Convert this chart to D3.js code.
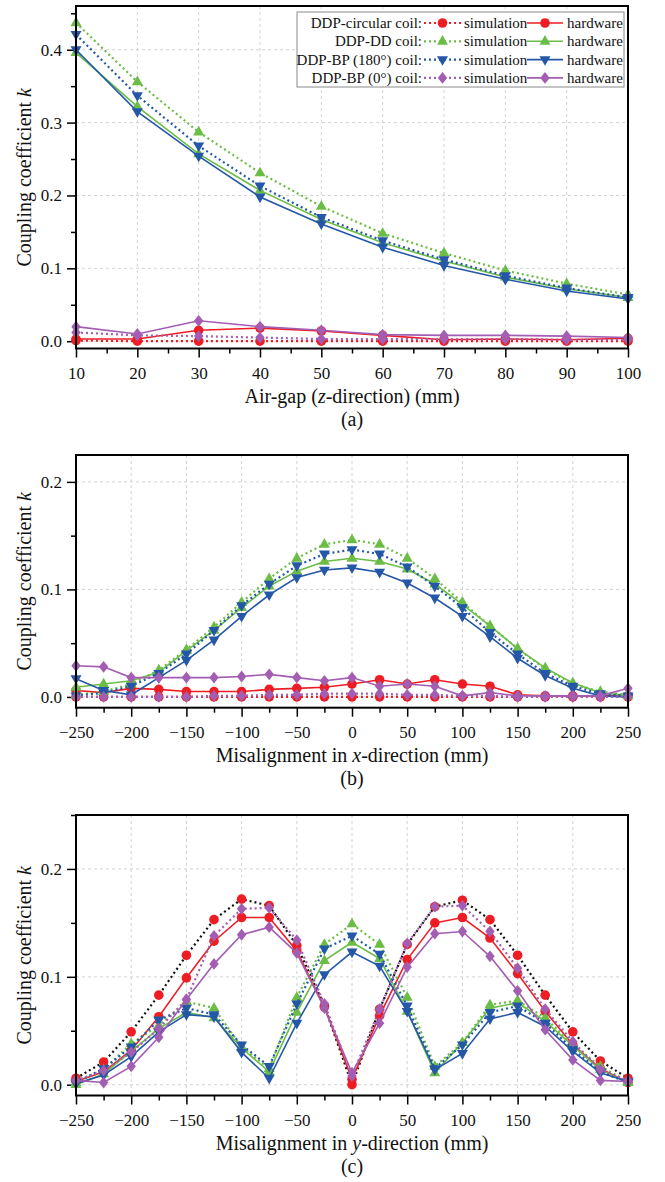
<!DOCTYPE html>
<html>
<head>
<meta charset="utf-8">
<script src="https://cdn.jsdelivr.net/npm/d3@7"></script>
<style>
  body { margin: 0; background: #fff; }
  svg { display: block; }
  svg text { font-family: "Liberation Serif", "Times New Roman", serif !important; }
</style>
</head>
<body>
<svg id="chart" width="665" height="1182"></svg>
<script>
"use strict";

// (a) air-gap sweep
const gapMm = [10, 20, 30, 40, 50, 60, 70, 80, 90, 100];
const gapCircularSim = [0.001, 0.000, 0.000, 0.000, 0.000, 0.000, 0.000, 0.000, 0.000, 0.000];
const gapCircularHw  = [0.003, 0.003, 0.015, 0.018, 0.014, 0.008, 0.002, 0.003, 0.002, 0.004];
const gapDDSim       = [0.437, 0.356, 0.287, 0.231, 0.185, 0.148, 0.121, 0.097, 0.079, 0.064];
const gapDDHw        = [0.396, 0.322, 0.257, 0.207, 0.167, 0.135, 0.110, 0.088, 0.072, 0.060];
const gapBP180Sim    = [0.421, 0.337, 0.268, 0.213, 0.170, 0.138, 0.112, 0.090, 0.073, 0.060];
const gapBP180Hw     = [0.400, 0.315, 0.254, 0.198, 0.161, 0.129, 0.104, 0.085, 0.069, 0.058];
const gapBP0Sim      = [0.012, 0.008, 0.007, 0.005, 0.003, 0.003, 0.003, 0.003, 0.002, 0.002];
const gapBP0Hw       = [0.020, 0.010, 0.028, 0.020, 0.015, 0.009, 0.008, 0.008, 0.007, 0.005];

// (b) misalignment in x
const misX = [-250, -225, -200, -175, -150, -125, -100, -75, -50, -25, 0, 25, 50, 75, 100, 125, 150, 175, 200, 225, 250];
const xCircularSim = [0, 0, 0, 0, 0, 0, 0, 0, 0, 0, 0, 0, 0, 0, 0, 0, 0, 0, 0, 0, 0];
const xCircularHw  = [0.006, 0.004, 0.008, 0.007, 0.005, 0.005, 0.005, 0.007, 0.008, 0.009, 0.012, 0.016, 0.012, 0.016, 0.012, 0.010, 0.002, 0.001, 0.001, 0.001, 0.001];
const xDDSim       = [0.002, 0.005, 0.012, 0.025, 0.044, 0.065, 0.088, 0.110, 0.129, 0.142, 0.146, 0.142, 0.129, 0.110, 0.088, 0.066, 0.045, 0.026, 0.012, 0.005, 0.002];
const xDDHw        = [0.009, 0.012, 0.015, 0.023, 0.043, 0.062, 0.083, 0.103, 0.117, 0.126, 0.129, 0.126, 0.119, 0.105, 0.086, 0.066, 0.045, 0.027, 0.013, 0.004, 0.001];
const xBP180Sim    = [0.001, 0.004, 0.010, 0.022, 0.040, 0.062, 0.085, 0.105, 0.122, 0.133, 0.137, 0.133, 0.121, 0.103, 0.083, 0.060, 0.040, 0.022, 0.010, 0.003, 0.001];
const xBP180Hw     = [0.017, 0.006, 0.002, 0.018, 0.034, 0.053, 0.075, 0.095, 0.111, 0.118, 0.120, 0.116, 0.106, 0.092, 0.075, 0.056, 0.036, 0.020, 0.008, 0.001, 0.000];
const xBP0Sim      = [0, 0, 0, 0, 0, 0.001, 0.001, 0.002, 0.002, 0.003, 0.003, 0.003, 0.002, 0.002, 0.001, 0.001, 0, 0, 0, 0, 0];
const xBP0Hw       = [0.029, 0.028, 0.018, 0.018, 0.018, 0.018, 0.019, 0.021, 0.018, 0.015, 0.018, 0.010, 0.012, 0.010, 0.001, 0.004, 0.001, 0.001, 0.001, 0.001, 0.008];

// (c) misalignment in y
const misY = [-250, -225, -200, -175, -150, -125, -100, -75, -50, -25, 0, 25, 50, 75, 100, 125, 150, 175, 200, 225, 250];
const yCircularSim = [0.006, 0.021, 0.049, 0.083, 0.120, 0.153, 0.172, 0.166, 0.129, 0.073, 0.000, 0.070, 0.130, 0.165, 0.171, 0.153, 0.120, 0.083, 0.049, 0.022, 0.006];
const yCircularHw  = [0.003, 0.012, 0.032, 0.063, 0.099, 0.133, 0.155, 0.155, 0.124, 0.072, 0.005, 0.064, 0.116, 0.150, 0.155, 0.136, 0.103, 0.068, 0.037, 0.015, 0.002];
const yDDSim       = [0.002, 0.014, 0.038, 0.055, 0.077, 0.071, 0.035, 0.015, 0.081, 0.130, 0.149, 0.130, 0.081, 0.017, 0.039, 0.074, 0.078, 0.062, 0.037, 0.017, 0.003];
const yDDHw        = [0.000, 0.010, 0.031, 0.052, 0.067, 0.062, 0.034, 0.012, 0.067, 0.115, 0.132, 0.117, 0.068, 0.011, 0.039, 0.071, 0.076, 0.059, 0.036, 0.014, 0.002];
const yBP180Sim    = [0.002, 0.015, 0.035, 0.060, 0.071, 0.065, 0.037, 0.017, 0.075, 0.126, 0.138, 0.121, 0.073, 0.015, 0.037, 0.067, 0.073, 0.057, 0.033, 0.012, 0.002];
const yBP180Hw     = [0.001, 0.009, 0.026, 0.049, 0.065, 0.063, 0.030, 0.006, 0.057, 0.102, 0.123, 0.110, 0.068, 0.014, 0.029, 0.061, 0.067, 0.054, 0.031, 0.011, 0.003];
const yBP0Sim      = [0.004, 0.013, 0.030, 0.052, 0.079, 0.138, 0.163, 0.164, 0.134, 0.075, 0.008, 0.070, 0.131, 0.165, 0.166, 0.142, 0.108, 0.070, 0.040, 0.014, 0.004];
const yBP0Hw       = [0.004, 0.002, 0.017, 0.044, 0.079, 0.112, 0.139, 0.146, 0.122, 0.071, 0.011, 0.057, 0.109, 0.140, 0.142, 0.119, 0.087, 0.051, 0.023, 0.004, 0.003];

const coilNames = ["DDP-circular coil:", "DDP-DD coil:", "DDP-BP (180°) coil:", "DDP-BP (0°) coil:"];
const coilColors = ["#ee1d24", "#6bbd46", "#2457a7", "#a35db2"];
const coilShapes = ["circle", "up", "down", "diamond"];

const shapes = {
    circle: "M4.8,0A4.8,4.8 0 1,1 -4.8,0A4.8,4.8 0 1,1 4.8,0Z",
    up: "M0,-6.2L5.5,3.4L-5.5,3.4Z",
    down: "M0,6.2L5.5,-3.4L-5.5,-3.4Z",
    diamond: "M0,-5.9L4.7,0L0,5.9L-4.7,0Z"
};

const svg = d3.select("#chart");
const left = 76, right = 628;

function drawPanel(p) {
    const x = d3.scaleLinear().domain(p.xDomain).range([left, right]);
    const y = d3.scaleLinear().domain(p.yDomain).range([p.bottom, p.top]);
    const g = svg.append("g");

    // grid
    g.append("g").selectAll("line")
        .data(p.xMajor.filter(d => d !== p.xDomain[0] && d !== p.xDomain[1]))
        .enter().append("line")
        .attr("x1", d => x(d)).attr("x2", d => x(d))
        .attr("y1", p.top).attr("y2", p.bottom)
        .attr("stroke", "#c8c8c8").attr("stroke-width", 0.8).attr("stroke-dasharray", "3,3");
    g.append("g").selectAll("line")
        .data(p.yMajor)
        .enter().append("line")
        .attr("x1", left).attr("x2", right)
        .attr("y1", d => y(d)).attr("y2", d => y(d))
        .attr("stroke", "#c8c8c8").attr("stroke-width", 0.8).attr("stroke-dasharray", "3,3");

    // axes
    g.append("g").attr("transform", "translate(0," + p.bottom + ")")
        .call(d3.axisBottom(x).tickValues(p.xMajor).tickSize(9).tickPadding(9).tickFormat(d3.format("d")));
    g.append("g").attr("transform", "translate(0," + p.bottom + ")")
        .call(d3.axisBottom(x).tickValues(p.xMinor).tickSize(5).tickFormat(""));
    g.append("g").attr("transform", "translate(" + left + ",0)")
        .call(d3.axisLeft(y).tickValues(p.yMajor).tickSize(9).tickPadding(5).tickFormat(d3.format(".1f")));
    g.append("g").attr("transform", "translate(" + left + ",0)")
        .call(d3.axisLeft(y).tickValues(p.yMinor).tickSize(5).tickFormat(""));
    g.selectAll(".domain").remove();
    g.selectAll(".tick line").attr("stroke", "#000").attr("stroke-width", 1.5);
    g.selectAll(".tick text").attr("font-size", 17).attr("fill", "#111");

    // series
    const line = d3.line().x(d => x(d[0])).y(d => y(d[1]));
    p.series.forEach(function (s, i) {
        const coil = Math.floor(i / 2);
        const isSim = i % 2 === 0;
        const pts = p.xs.map((v, j) => [v, s[j]]);
        const lineColor = (isSim && p.simLineColors && p.simLineColors[coil]) || coilColors[coil];
        g.append("path")
            .attr("d", line(pts))
            .attr("fill", "none")
            .attr("stroke", lineColor)
            .attr("stroke-width", isSim ? 2.2 : 1.6)
            .attr("stroke-dasharray", isSim ? "2,3" : null);
        g.append("g").selectAll("path")
            .data(pts)
            .enter().append("path")
            .attr("transform", d => "translate(" + x(d[0]) + "," + y(d[1]) + ")")
            .attr("d", shapes[coilShapes[coil]])
            .attr("fill", coilColors[coil]);
    });

    // frame
    g.append("rect")
        .attr("x", left).attr("y", p.top)
        .attr("width", right - left).attr("height", p.bottom - p.top)
        .attr("fill", "none").attr("stroke", "#000").attr("stroke-width", 2);

    // titles
    const xt = g.append("text")
        .attr("x", (left + right) / 2).attr("y", p.bottom + 54)
        .attr("text-anchor", "middle").attr("font-size", 20).attr("fill", "#111");
    xt.append("tspan").text(p.xTitle[0]);
    xt.append("tspan").attr("font-style", "italic").text(p.xTitle[1]);
    xt.append("tspan").text(p.xTitle[2]);

    g.append("text")
        .attr("x", (left + right) / 2).attr("y", p.bottom + 77)
        .attr("text-anchor", "middle").attr("font-size", 20).attr("fill", "#111")
        .text(p.label);

    const yt = g.append("text")
        .attr("transform", "translate(31," + (p.top + p.bottom) / 2 + ") rotate(-90)")
        .attr("text-anchor", "middle").attr("font-size", 20).attr("fill", "#111");
    yt.append("tspan").text("Coupling coefficient ");
    yt.append("tspan").attr("font-style", "italic").text("k");

    return g;
}

drawPanel({
    top: 6, bottom: 348.5,
    xDomain: [10, 100], yDomain: [-0.01, 0.46],
    xMajor: [10, 20, 30, 40, 50, 60, 70, 80, 90, 100],
    xMinor: [15, 25, 35, 45, 55, 65, 75, 85, 95],
    yMajor: [0, 0.1, 0.2, 0.3, 0.4],
    yMinor: [0.05, 0.15, 0.25, 0.35, 0.45],
    xs: gapMm,
    series: [gapCircularSim, gapCircularHw, gapDDSim, gapDDHw, gapBP180Sim, gapBP180Hw, gapBP0Sim, gapBP0Hw],
    xTitle: ["Air-gap (", "z", "-direction) (mm)"],
    label: "(a)"
});

const misTicks = [-250, -200, -150, -100, -50, 0, 50, 100, 150, 200, 250];
const misMinor = [-225, -175, -125, -75, -25, 25, 75, 125, 175, 225];

drawPanel({
    top: 455, bottom: 707.7,
    xDomain: [-250, 250], yDomain: [-0.01, 0.225],
    xMajor: misTicks, xMinor: misMinor,
    yMajor: [0, 0.1, 0.2],
    yMinor: [0.05, 0.15],
    xs: misX,
    series: [xCircularSim, xCircularHw, xDDSim, xDDHw, xBP180Sim, xBP180Hw, xBP0Sim, xBP0Hw],
    xTitle: ["Misalignment in ", "x", "-direction (mm)"],
    label: "(b)"
});

drawPanel({
    top: 815, bottom: 1095.5,
    xDomain: [-250, 250], yDomain: [-0.01, 0.25],
    xMajor: misTicks, xMinor: misMinor,
    yMajor: [0, 0.1, 0.2],
    yMinor: [0.05, 0.15, 0.25],
    xs: misY,
    series: [yCircularSim, yCircularHw, yDDSim, yDDHw, yBP180Sim, yBP180Hw, yBP0Sim, yBP0Hw],
    simLineColors: ["#111"],
    xTitle: ["Misalignment in ", "y", "-direction (mm)"],
    label: "(c)"
});

// legend for panel (a)
const legend = svg.append("g");
legend.append("rect")
    .attr("x", 297).attr("y", 12).attr("width", 327).attr("height", 75)
    .attr("fill", "#fff").attr("stroke", "#8a8a8a").attr("stroke-width", 1);

coilNames.forEach(function (name, i) {
    const cy = 23 + i * 18.3;
    const row = legend.append("g").attr("font-size", 15).attr("fill", "#111");
    row.append("text").attr("x", 422).attr("y", cy + 5).attr("text-anchor", "end").text(name);
    row.append("line").attr("x1", 424).attr("x2", 461).attr("y1", cy).attr("y2", cy)
        .attr("stroke", coilColors[i]).attr("stroke-width", 2.2).attr("stroke-dasharray", "2,3");
    row.append("path").attr("transform", "translate(442.5," + cy + ")")
        .attr("d", shapes[coilShapes[i]]).attr("fill", coilColors[i]);
    row.append("text").attr("x", 464).attr("y", cy + 5).text("simulation");
    row.append("line").attr("x1", 527).attr("x2", 563).attr("y1", cy).attr("y2", cy)
        .attr("stroke", coilColors[i]).attr("stroke-width", 1.6);
    row.append("path").attr("transform", "translate(545," + cy + ")")
        .attr("d", shapes[coilShapes[i]]).attr("fill", coilColors[i]);
    row.append("text").attr("x", 567).attr("y", cy + 5).text("hardware");
});
</script>
</body>
</html>
